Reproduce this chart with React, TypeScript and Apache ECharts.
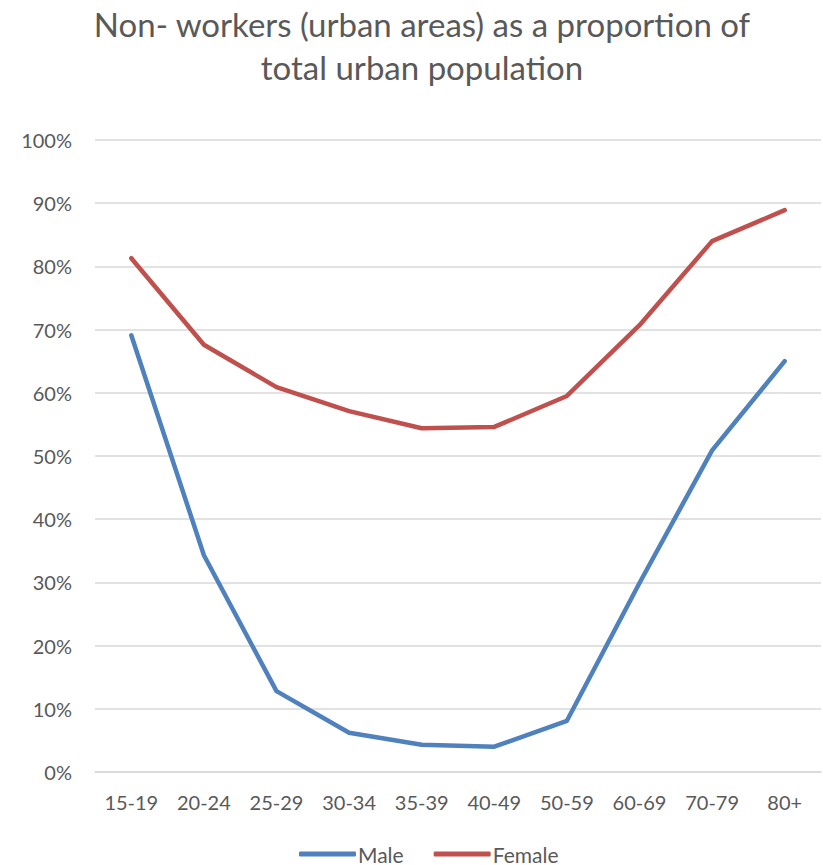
import React, { useEffect, useRef } from "react";
import * as echarts from "echarts";

const categories = ["15-19", "20-24", "25-29", "30-34", "35-39", "40-49", "50-59", "60-69", "70-79", "80+"];
const maleValues = [69.1, 34.3, 12.8, 6.2, 4.3, 4.0, 8.1, 29.9, 50.9, 65.0];
const femaleValues = [81.3, 67.6, 60.9, 57.1, 54.4, 54.6, 59.5, 70.7, 84.0, 88.9];
const titleText = "Non- workers (urban areas) as a proportion of\ntotal urban population";

export default function App() {
  const ref = useRef<HTMLDivElement>(null);
  useEffect(() => {
    if (!ref.current) return;
    const chart = echarts.init(ref.current, null, { renderer: "svg" });
    const font = "Lato, 'Open Sans', sans-serif";
    chart.setOption({
      animation: false,
      backgroundColor: "#ffffff",
      title: {
        text: titleText,
        left: 417,
        textAlign: "center",
        top: -3,
        textStyle: { fontFamily: font, fontSize: 33, fontWeight: "normal", color: "#595959", lineHeight: 43 },
      },
      legend: {
        bottom: 0,
        left: 294,
        itemWidth: 57,
        itemHeight: 5,
        itemGap: 30,
        padding: [0, 5, 0, 5],
        icon: "roundRect",
        textStyle: { fontFamily: font, fontSize: 21, lineHeight: 22, color: "#595959", padding: [0, 0, 0, -3] },
        data: ["Male", "Female"],
      },
      grid: { left: 95, right: 2, top: 140, bottom: 93 },
      xAxis: {
        type: "category",
        data: categories,
        boundaryGap: true,
        axisLine: { show: true, lineStyle: { color: "#d9d9d9", width: 1.5 } },
        axisTick: { show: false },
        axisLabel: { fontFamily: font, fontSize: 20, color: "#595959", margin: 20 },
      },
      yAxis: {
        type: "value",
        min: 0,
        max: 100,
        interval: 10,
        axisLine: { show: false },
        axisTick: { show: false },
        splitLine: { lineStyle: { color: "#d9d9d9", width: 1.5 } },
        axisLabel: { fontFamily: font, fontSize: 20, color: "#595959", margin: 23, formatter: "{value}%" },
      },
      series: [
        {
          name: "Male",
          type: "line",
          data: maleValues,
          symbol: "none",
          lineStyle: { color: "#4F81BD", width: 4.5, cap: "round", join: "round" },
          itemStyle: { color: "#4F81BD" },
        },
        {
          name: "Female",
          type: "line",
          data: femaleValues,
          symbol: "none",
          lineStyle: { color: "#C0504D", width: 4.5, cap: "round", join: "round" },
          itemStyle: { color: "#C0504D" },
        },
      ],
    });
    return () => chart.dispose();
  }, []);
  return <div ref={ref} style={{ position: "absolute", left: 0, top: 0, width: 823, height: 865 }} />;
}
